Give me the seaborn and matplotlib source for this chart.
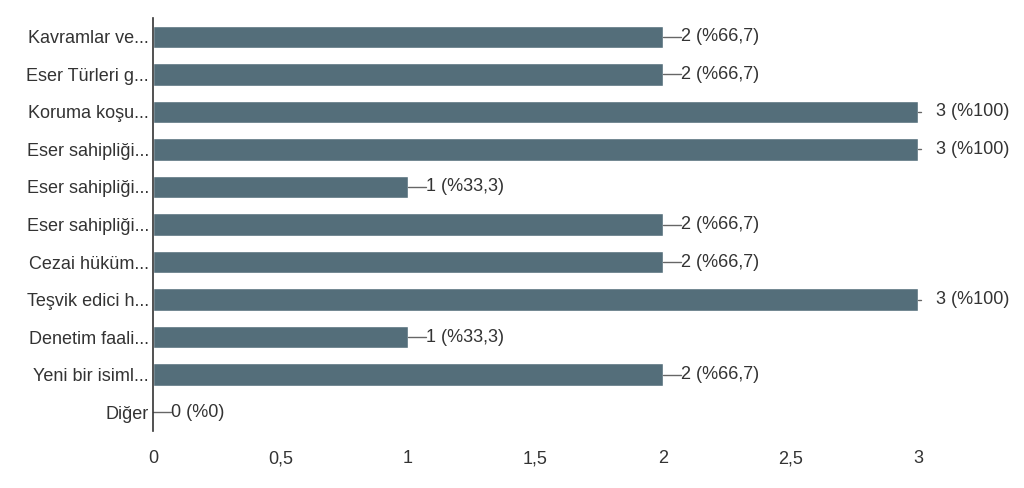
import matplotlib
matplotlib.use("Agg")
import matplotlib.pyplot as plt
import seaborn as sns
import pandas as pd

categories = ["Kavramlar ve...", "Eser Türleri g...", "Koruma koşu...", "Eser sahipliği...",
              "Eser sahipliği...", "Eser sahipliği...", "Cezai hüküm...", "Teşvik edici h...",
              "Denetim faali...", "Yeni bir isiml...", "Diğer"]
counts = [2, 2, 3, 3, 1, 2, 2, 3, 1, 2, 0]
labels = ["2 (%66,7)", "2 (%66,7)", "3 (%100)", "3 (%100)", "1 (%33,3)", "2 (%66,7)",
          "2 (%66,7)", "3 (%100)", "1 (%33,3)", "2 (%66,7)", "0 (%0)"]
xticks = [0, 0.5, 1, 1.5, 2, 2.5, 3]
xticklabels = ["0", "0,5", "1", "1,5", "2", "2,5", "3"]

sns.set_theme(style="white")
plt.rcParams["font.family"] = ["Liberation Sans", "DejaVu Sans"]

keys = [str(i) for i in range(len(categories))]
df = pd.DataFrame({"key": keys, "n": counts})
fig = plt.figure(figsize=(10.24, 4.88), dpi=100)
ax = fig.add_axes([153/1024, 1-431/488, (918-153)/1024, (431-18)/488])
sns.barplot(data=df, y="key", x="n", orient="h", color="#546E7A", saturation=1,
            width=0.6, ax=ax, order=keys)
ax.set_xlim(0, 3)
ax.set_ylim(10.5, -0.5)
ax.set_xlabel("")
ax.set_ylabel("")
ax.set_xticks(xticks)
ax.set_xticklabels(xticklabels)
ax.set_yticks(range(len(categories)))
ax.set_yticklabels(categories)
txtcol = "#333333"
fs = 13
ax.tick_params(axis="both", length=0, labelsize=fs, colors=txtcol)
ax.tick_params(axis="x", pad=14)
ax.tick_params(axis="y", pad=3)
for s in ["top", "right", "bottom"]:
    ax.spines[s].set_visible(False)
ax.spines["left"].set_color("#333333")
ax.spines["left"].set_linewidth(1.2)

line_len = 0.07
for i, (v, lab) in enumerate(zip(counts, labels)):
    if v >= 3:
        ax.plot([v, v + 0.01], [i, i], color="#666666", lw=1, clip_on=False)
        ax.text(v + 0.07, i, lab, va="center", ha="left", fontsize=fs, color=txtcol, clip_on=False)
    else:
        ax.plot([v, v + line_len], [i, i], color="#666666", lw=1, clip_on=False)
        ax.text(v + line_len, i, lab, va="center", ha="left", fontsize=fs, color=txtcol, clip_on=False)

fig.savefig("out.png", dpi=100)
